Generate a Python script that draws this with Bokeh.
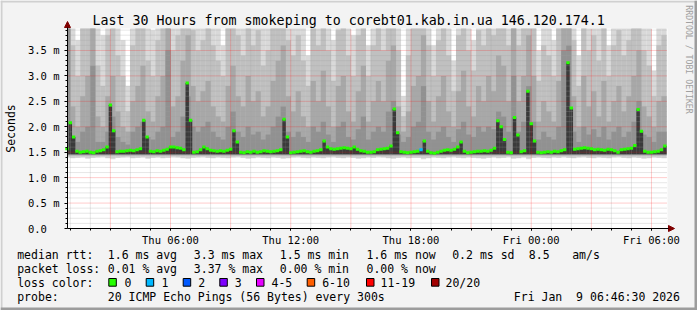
import math
from bokeh.plotting import figure
from bokeh.models import (FixedTicker, Label, Arrow, NormalHead, LinearAxis,
                          PrintfTickFormatter, Range1d, BoxAnnotation, ColumnDataSource)
from bokeh.embed import file_html
from bokeh.resources import INLINE

# ---------------- data (hours since Thu 00:00, values in ms) ----------------
smoke_start = 0.75     # start of first smoke column (h)
smoke_step = 0.25      # smoke column width (h)
median_start = 0.75
median_step = 1.0 / 6.0
TOP = 3.93             # "reaches the top of the graph"

ping_min = [
    1.40, 1.38, 1.39, 1.40, 1.37, 1.39, 1.40, 1.41, 1.38, 1.36,
    1.39, 1.40, 1.41, 1.38, 1.39, 1.40, 1.37, 1.39, 1.40, 1.38,
    1.39, 1.41, 1.40, 1.38, 1.37, 1.39, 1.40, 1.41, 1.39, 1.38,
    1.40, 1.39, 1.38, 1.40, 1.41, 1.39, 1.37, 1.38, 1.40, 1.39,
    1.38, 1.40, 1.39, 1.37, 1.38, 1.40, 1.41, 1.39, 1.38, 1.40,
    1.39, 1.38, 1.40, 1.41, 1.39, 1.38, 1.40, 1.39, 1.37, 1.38,
    1.40, 1.39, 1.41, 1.40, 1.38, 1.37, 1.39, 1.40, 1.38, 1.39,
    1.39, 1.36, 1.38, 1.40, 1.39, 1.38, 1.40, 1.41, 1.39, 1.38,
    1.40, 1.39, 1.38, 1.37, 1.39, 1.40, 1.38, 1.39, 1.41, 1.37,
    1.38, 1.40, 1.36, 1.39, 1.40, 1.39, 1.38, 1.40, 1.39, 1.41,
    1.39, 1.38, 1.40, 1.41, 1.39, 1.38, 1.40, 1.39, 1.38, 1.40,
    1.41, 1.39, 1.38, 1.40, 1.39, 1.37, 1.38, 1.40, 1.39, 1.38,
]

# upper smoke band tops (outer = lightest ... inner = darkest)
smoke_top1 = [
    3.93, 3.93, 3.7, 3.93, 3.93, 3.93, 3.93, 3.8, 3.93, 3.93,
    3.93, 3.7, 2.8, 3.93, 3.93, 3.93, 3.93, 3.9, 3.93, 3.93,
    3.93, 3.93, 3.93, 3.93, 3.93, 3.93, 3.93, 3.93, 3.93, 3.93,
    3.93, 3.6, 3.93, 3.93, 3.93, 3.93, 3.93, 3.93, 3.93, 3.93,
    3.93, 3.93, 3.93, 3.93, 3.93, 3.93, 3.93, 3.93, 3.4, 3.93,
    3.93, 3.93, 3.93, 3.7, 3.93, 3.93, 3.93, 3.8, 3.93, 3.93,
    3.6, 3.93, 3.93, 3.93, 3.93, 3.93, 3.93, 2.6, 3.93, 3.93,
    3.93, 3.93, 3.93, 3.6, 3.93, 3.93, 3.93, 3.3, 3.93, 3.93,
    3.93, 3.7, 3.93, 3.93, 3.93, 3.93, 3.93, 3.93, 3.93, 3.93,
    3.93, 3.93, 3.93, 3.93, 3.5, 3.93, 3.93, 3.7, 3.93, 3.93,
    3.93, 3.93, 3.4, 3.93, 3.93, 3.93, 3.93, 3.93, 3.6, 3.93,
    3.93, 3.93, 3.93, 3.93, 3.93, 3.93, 3.93, 3.1, 3.93, 3.93,
]
smoke_top2 = [
    3.93, 3.6, 3.0, 3.93, 3.93, 3.93, 3.2, 2.8, 3.8, 3.93,
    3.4, 3.0, 2.3, 3.6, 3.93, 3.93, 3.3, 3.0, 3.7, 3.93,
    3.93, 3.5, 3.8, 3.93, 3.93, 3.9, 3.5, 3.7, 3.93, 3.6,
    3.3, 3.0, 3.93, 3.93, 3.8, 3.4, 3.93, 3.6, 3.9, 3.2,
    3.5, 3.93, 3.93, 3.93, 3.7, 3.4, 3.8, 3.3, 2.8, 3.93,
    3.6, 3.93, 3.5, 2.9, 3.9, 3.93, 3.4, 3.0, 3.8, 3.93,
    3.0, 3.6, 3.93, 3.5, 3.93, 3.93, 3.5, 2.2, 3.4, 3.93,
    3.93, 3.93, 3.6, 3.0, 3.7, 3.93, 3.4, 2.7, 3.8, 3.93,
    3.5, 3.1, 3.9, 3.6, 3.93, 3.8, 3.93, 3.93, 3.6, 3.93,
    3.6, 3.93, 3.93, 3.93, 2.9, 3.6, 3.4, 3.0, 3.93, 3.93,
    3.93, 3.7, 2.8, 3.93, 3.5, 3.8, 3.3, 3.93, 3.0, 3.6,
    3.9, 3.4, 3.7, 3.93, 3.93, 3.5, 3.2, 2.6, 3.6, 3.8,
]
smoke_top3 = [
    3.93, 2.4, 2.0, 2.6, 3.0, 3.93, 2.2, 2.0, 2.6, 3.0,
    2.3, 2.0, 1.9, 2.5, 2.8, 3.2, 2.3, 2.1, 2.6, 3.0,
    3.93, 2.4, 2.6, 3.3, 3.8, 2.8, 2.5, 2.7, 2.9, 2.4,
    2.2, 2.1, 2.8, 3.2, 2.6, 2.4, 3.0, 2.5, 2.7, 2.2,
    2.4, 2.9, 3.3, 3.6, 2.6, 2.3, 2.7, 2.2, 2.0, 2.9,
    2.5, 3.1, 2.4, 2.0, 2.8, 3.0, 2.3, 2.1, 2.7, 3.2,
    2.1, 2.5, 2.9, 2.5, 3.3, 3.6, 2.4, 1.9, 2.3, 2.8,
    3.0, 3.8, 2.5, 2.1, 2.6, 3.0, 2.3, 2.0, 2.7, 3.1,
    2.4, 2.2, 2.8, 2.5, 3.0, 2.7, 3.4, 3.2, 2.5, 3.93,
    2.5, 3.0, 3.8, 3.0, 2.1, 2.5, 2.3, 2.1, 2.9, 3.93,
    3.93, 2.6, 2.0, 3.0, 2.4, 2.7, 2.2, 2.9, 2.1, 2.5,
    2.8, 2.3, 2.6, 3.0, 3.5, 2.4, 2.2, 2.0, 2.5, 2.6,
]
smoke_top4 = [
    3.93, 1.8, 1.7, 1.9, 2.0, 3.2, 1.7, 1.7, 1.9, 2.2,
    1.8, 1.7, 1.65, 1.9, 2.0, 2.1, 1.8, 1.75, 1.9, 2.0,
    3.5, 1.8, 1.9, 2.2, 2.6, 2.0, 1.9, 2.0, 2.1, 1.9,
    1.8, 1.75, 2.0, 2.3, 1.9, 1.8, 2.0, 1.85, 1.9, 1.75,
    1.85, 2.0, 2.2, 2.4, 1.9, 1.8, 1.9, 1.8, 1.7, 2.0,
    1.9, 2.1, 1.85, 1.7, 2.0, 2.1, 1.8, 1.75, 1.95, 2.2,
    1.75, 1.9, 2.0, 1.9, 2.3, 2.5, 1.85, 1.7, 1.8, 2.0,
    2.1, 2.8, 1.9, 1.75, 1.9, 2.0, 1.8, 1.7, 1.95, 2.1,
    1.85, 1.8, 2.0, 1.9, 2.0, 1.95, 2.3, 2.2, 1.9, 3.0,
    1.9, 2.1, 2.8, 2.1, 1.75, 1.9, 1.8, 1.75, 2.0, 3.5,
    3.6, 1.9, 1.7, 2.0, 1.85, 1.95, 1.8, 2.0, 1.75, 1.9,
    2.0, 1.8, 1.9, 2.1, 2.5, 1.85, 1.8, 1.7, 1.9, 1.9,
]

median_rtt = [
    1.57, 2.08, 1.80, 1.52, 1.50, 1.51, 1.52, 1.50, 1.49, 1.52,
    1.53, 1.55, 1.60, 2.43, 1.92, 1.51, 1.52, 1.52, 1.53, 1.54,
    1.53, 1.55, 1.57, 2.13, 1.80, 1.52, 1.51, 1.53, 1.52, 1.54,
    1.56, 1.60, 1.60, 1.59, 1.58, 1.55, 2.86, 2.13, 1.50, 1.51,
    1.55, 1.60, 1.57, 1.54, 1.53, 1.52, 1.53, 1.52, 1.54, 1.56,
    1.92, 1.70, 1.50, 1.49, 1.51, 1.50, 1.52, 1.50, 1.51, 1.53,
    1.52, 1.51, 1.52, 1.53, 1.55, 2.15, 1.80, 1.49, 1.50, 1.51,
    1.52, 1.53, 1.51, 1.50, 1.52, 1.53, 1.55, 1.72, 1.60, 1.57,
    1.56, 1.57, 1.58, 1.59, 1.58, 1.57, 1.60, 1.56, 1.53, 1.52,
    1.50, 1.50, 1.51, 1.55, 1.56, 1.57, 1.58, 1.62, 2.35, 1.88,
    1.51, 1.50, 1.49, 1.50, 1.51, 1.52, 1.55, 1.72, 1.52, 1.49,
    1.48, 1.50, 1.52, 1.54, 1.55, 1.54, 1.56, 1.60, 1.70, 1.52,
    1.49, 1.50, 1.51, 1.52, 1.52, 1.53, 1.52, 1.54, 1.58, 2.12,
    2.00, 1.75, 1.50, 1.49, 2.18, 1.84, 1.51, 1.53, 2.70, 2.06,
    1.72, 1.50, 1.49, 1.50, 1.51, 1.50, 1.52, 1.51, 1.53, 1.55,
    3.26, 2.37, 1.56, 1.57, 1.58, 1.59, 1.58, 1.57, 1.55, 1.56,
    1.55, 1.54, 1.56, 1.55, 1.53, 1.50, 1.55, 1.56, 1.57, 1.58,
    1.63, 2.34, 1.91, 1.52, 1.50, 1.50, 1.51, 1.52, 1.55, 1.62,
]

lost_pings = [
    0, 0, 0, 0, 0, 0, 0, 0, 0, 0, 0, 0, 0, 0, 0, 0, 0, 0, 0, 0, 0, 0, 0, 0, 0, 0, 0, 0, 0, 0,
    0, 0, 0, 0, 0, 0, 0, 0, 0, 0, 0, 0, 0, 0, 0, 0, 0, 0, 0, 0, 0, 0, 0, 0, 0, 0, 0, 0, 0, 0,
    0, 0, 0, 0, 0, 0, 0, 0, 0, 0, 0, 0, 0, 0, 0, 0, 0, 0, 0, 0, 0, 0, 0, 0, 0, 0, 0, 0, 0, 0,
    0, 0, 0, 0, 0, 0, 0, 0, 0, 0, 0, 0, 0, 0, 0, 0, 1, 0, 0, 0, 0, 0, 0, 0, 0, 0, 0, 0, 0, 0,
    0, 0, 0, 0, 0, 0, 0, 0, 0, 0, 0, 0, 0, 0, 0, 0, 0, 0, 0, 0, 0, 0, 0, 0, 0, 0, 0, 0, 0, 0,
    0, 0, 0, 0, 0, 0, 0, 0, 0, 0, 0, 0, 0, 0, 0, 0, 0, 0, 0, 0, 0, 0, 0, 0, 0, 0, 0, 0, 0, 0,
]

xtick_hours = [6, 12, 18, 24, 30]
xtick_labels = ["Thu 06:00", "Thu 12:00", "Thu 18:00", "Fri 00:00", "Fri 06:00"]
ytick_ms = [0.0, 0.5, 1.0, 1.5, 2.0, 2.5, 3.0, 3.5]
grid_hours = [1, 2, 4, 5, 7, 8, 10, 11, 13, 14, 16, 17, 19, 20, 22, 23, 25, 26, 28, 29]
major_hours = [3, 6, 9, 12, 15, 18, 21, 24, 27, 30]
grid_ms = [0.1, 0.2, 0.3, 0.4, 0.6, 0.7, 0.8, 0.9, 1.1, 1.2, 1.3, 1.4, 1.6, 1.7, 1.8, 1.9,
           2.1, 2.2, 2.3, 2.4, 2.6, 2.7, 2.8, 2.9, 3.1, 3.2, 3.3, 3.4, 3.6, 3.7, 3.8, 3.9]
major_ms = [0.5, 1.0, 1.5, 2.0, 2.5, 3.0, 3.5]

loss_names = ["0", "1", "2", "3", "4-5", "6-10", "11-19", "20/20"]
loss_colors = ["#26ff00", "#00b8ff", "#0059ff", "#7e00ff", "#e600ff", "#ff5e00", "#ff0000", "#a10000"]

legend_rows = [
    ["median rtt:", "1.6 ms avg", "3.3 ms max", "1.5 ms min", "1.6 ms now", "0.2 ms sd", "8.5", "am/s"],
    ["packet loss:", "0.01 % avg", "3.37 % max", "0.00 % min", "0.00 % now"],
]
probe_text = ["probe:", "20 ICMP Echo Pings (56 Bytes) every 300s", "Fri Jan\u00a0 9 06:46:30 2026"]
title_text = "Last 30 Hours from smokeping to corebt01.kab.in.ua 146.120.174.1"

# ---------------- layout: frame = whole canvas, graph area 67..667 x 28..228 px ----------------
T0, T1 = 0.86, 30.80
VMAX = 3.932
SX = (T1 - T0) / 600.0
RY = VMAX / 200.0
FONT = "DejaVu Sans Mono"
BG = "#f3f3f3"

def dx(X):
    return T0 + (X - 67.0) * SX

def dy(Y):
    return (228.0 - Y) * RY

p = figure(width=697, height=310, output_backend="svg", toolbar_location=None, title=None,
           x_axis_type=None, y_axis_type=None,
           x_range=Range1d(dx(0), dx(697)), y_range=Range1d(dy(310), dy(0)),
           min_border=0, min_border_left=0, min_border_right=0, min_border_top=0, min_border_bottom=0,
           background_fill_color=BG, border_fill_color=BG, outline_line_color=None)
p.grid.visible = False

# white canvas of the graph
p.add_layout(BoxAnnotation(left=T0, right=T1, bottom=0, top=VMAX, fill_color="white",
                           fill_alpha=1, line_color=None, level="underlay"))

# ---------------- smoke ----------------
n = len(smoke_top1)
xs = [smoke_start + smoke_step * (k + 0.5) for k in range(n)]
src = ColumnDataSource(dict(x=xs, lo=ping_min, t1=smoke_top1, t2=smoke_top2,
                            t3=smoke_top3, t4=smoke_top4))
w = smoke_step * 1.04
p.vbar(x="x", width=w, bottom="lo", top="t1", source=src, fill_color="#d9d9d9", line_color=None)
p.vbar(x="x", width=w, bottom=1.42, top="t2", source=src, fill_color="#c0c0c0", line_color=None)
p.vbar(x="x", width=w, bottom=1.44, top="t3", source=src, fill_color="#a8a8a8", line_color=None)
p.vbar(x="x", width=w, bottom=1.45, top="t4", source=src, fill_color="#919191", line_color=None)

m = len(median_rtt)
mx0 = [median_start + median_step * j for j in range(m)]
mx1 = [v + median_step for v in mx0]
mxc = [v + median_step / 2 for v in mx0]
mcol = [loss_colors[c] for c in lost_pings]
msrc = ColumnDataSource(dict(x0=mx0, x1=mx1, xc=mxc, y=median_rtt, c=mcol))
p.vbar(x="xc", width=median_step * 1.04, bottom=1.46, top="y", source=msrc,
       fill_color="#3a3a3a", line_color=None)

# hide what spills left of the graph
p.quad(left=dx(0), right=dx(66.5), bottom=dy(240), top=dy(20), fill_color=BG, line_color=None)

# ---------------- grid (dotted, drawn over the smoke like rrdtool) ----------------
p.segment(x0=grid_hours, x1=grid_hours, y0=0, y1=VMAX, line_color="#a0a0a0",
          line_alpha=0.5, line_width=1, line_dash="1 1")
p.segment(x0=T0, x1=T1, y0=grid_ms, y1=grid_ms, line_color="#a0a0a0",
          line_alpha=0.5, line_width=1, line_dash="1 1")
p.segment(x0=major_hours, x1=major_hours, y0=0, y1=VMAX, line_color="#ff0000",
          line_alpha=0.4, line_width=1, line_dash="1 1")
p.segment(x0=T0, x1=T1, y0=major_ms, y1=major_ms, line_color="#ff0000",
          line_alpha=0.4, line_width=1, line_dash="1 1")

# median on top
p.segment(x0="x0", x1="x1", y0="y", y1="y", source=msrc, line_color="c", line_width=3)

# ---------------- axes ----------------
yax = LinearAxis(fixed_location=T0, bounds=(0, dy(26)))
yax.ticker = FixedTicker(ticks=ytick_ms, minor_ticks=grid_ms + major_ms)
yax.formatter = PrintfTickFormatter(format="%.1f m")
yax.major_label_overrides = {0: "0.0\u00a0\u00a0"}
xax = LinearAxis(fixed_location=0, bounds=(T0, dx(669)))
xax.ticker = FixedTicker(ticks=xtick_hours, minor_ticks=grid_hours + major_hours)
xax.major_label_overrides = {h: s for h, s in zip(xtick_hours, xtick_labels)}
for ax in (xax, yax):
    ax.axis_line_color = "black"
    ax.major_tick_line_color = "black"
    ax.minor_tick_line_color = "black"
    ax.major_label_text_font = FONT
    ax.major_label_text_font_size = "10.5px"
    ax.major_label_text_color = "black"
    ax.major_tick_in = 0
    ax.minor_tick_in = 0
yax.major_tick_out = 3
yax.minor_tick_out = 2
yax.major_label_standoff = 5
xax.major_tick_out = 2
xax.minor_tick_out = 2
xax.major_label_standoff = 3
p.add_layout(yax, "left")
p.add_layout(xax, "below")

# axis arrows
arrow_col = "#7f0000"
p.add_layout(Arrow(end=NormalHead(size=6, fill_color=arrow_col, line_color=arrow_col),
                   x_start=T0, y_start=dy(28), x_end=T0, y_end=dy(21), line_color="black"))
p.add_layout(Arrow(end=NormalHead(size=6, fill_color=arrow_col, line_color=arrow_col),
                   x_start=dx(667), y_start=0, x_end=dx(674), y_end=0, line_color="black"))

# ---------------- texts ----------------
def lab(X, Y, text, size="11.5px", color="black", angle=0.0, align="left"):
    p.add_layout(Label(x=dx(X), y=dy(Y), text=text, text_font=FONT, text_font_size=size,
                       text_color=color, angle=angle, text_align=align, text_baseline="middle"))

lab(92, 19.5, title_text, size="13.3px")
lab(10, 128, "Seconds", angle=math.pi / 2, align="center")
lab(688, 59, "RRDTOOL / TOBI OETIKER", size="8.2px", color="#a0a0a0", angle=-math.pi / 2, align="center")

row1_x = [16.7, 107.3, 193.3, 279.3, 366, 451.7, 528.3, 571.7]
row2_x = [16.7, 107.3, 193.3, 279.3, 366]
for X, t in zip(row1_x, legend_rows[0]):
    lab(X, 254, t)
for X, t in zip(row2_x, legend_rows[1]):
    lab(X, 268, t)
lab(16.7, 282, "loss color:")
sq_x = [108.3, 145.7, 182.7, 219.3, 256, 306.7, 366, 431]
txt_x = [124, 161, 197.7, 234.3, 271, 321.7, 380, 445]
for X, TX, name, col in zip(sq_x, txt_x, loss_names, loss_colors):
    p.add_layout(BoxAnnotation(left=dx(X), right=dx(X + 7.5), top=dy(278), bottom=dy(285.7),
                               fill_color=col, fill_alpha=1, line_color="black", line_width=1,
                               line_alpha=1))
    lab(TX, 282, name)
for X, t in zip([16.7, 107.3, 513.3], probe_text):
    lab(X, 296, t)

# outer 3D frame
def strip(X0, X1, Y0, Y1, col):
    p.add_layout(BoxAnnotation(left=dx(X0), right=dx(X1), top=dy(Y0), bottom=dy(Y1),
                               fill_color=col, fill_alpha=1, line_color=None))
strip(0, 697, 0, 2, "#d0d0d0")
strip(0, 2, 0, 310, "#d0d0d0")
strip(0, 697, 307, 310, "#9c9c9c")
strip(694, 697, 0, 310, "#9c9c9c")

open("out.html", "w").write(file_html(p, INLINE))
